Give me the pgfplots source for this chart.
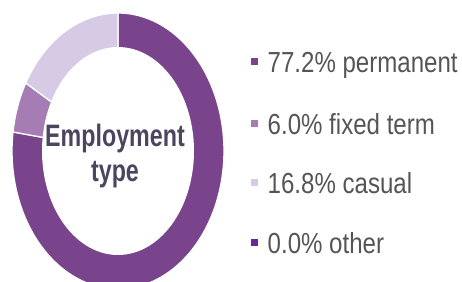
\documentclass[border=0pt]{standalone}
\usepackage{pgfplots}
\usepackage{pgfplotstable}
\pgfplotsset{compat=1.18}
\usepackage{fontspec}
\setmainfont[FakeStretch=0.83]{Liberation Sans}
\newfontfamily\centerfont[FakeStretch=0.75]{Liberation Sans}
\definecolor{cPerm}{HTML}{7A448D}
\definecolor{cFixed}{HTML}{A57DB4}
\definecolor{cCasual}{HTML}{D7CAE4}
\definecolor{cOther}{HTML}{64289A}
\definecolor{txt}{HTML}{555555}
\definecolor{ctxt}{HTML}{4B4560}
\pgfplotstableread{
label value
permanent 77.2
fixed 6.0
casual 16.8
other 0.0
}\datatable
\pgfplotstablegetelem{0}{value}\of\datatable \let\vA\pgfplotsretval
\pgfplotstablegetelem{1}{value}\of\datatable \let\vB\pgfplotsretval
\pgfplotstablegetelem{2}{value}\of\datatable \let\vC\pgfplotsretval
\pgfplotstablegetelem{3}{value}\of\datatable \let\vD\pgfplotsretval
\pgfmathsetmacro\aA{90}
\pgfmathsetmacro\aB{90-3.6*\vA}
\pgfmathsetmacro\aC{\aB-3.6*\vB}
\pgfmathsetmacro\aD{\aC-3.6*\vC}
\begin{document}
\begin{tikzpicture}
\useasboundingbox (0,0) rectangle (462pt,281pt);
\begin{axis}[
  at={(0,0)}, anchor=south west,
  width=462pt, height=281pt, scale only axis,
  xmin=0, xmax=462, ymin=0, ymax=281,
  hide axis, clip=true,
  trig format plots=deg,
]
\addplot[fill=cPerm, draw=white, line width=1.3pt, domain=\aB:\aA, samples=120, variable=\t]
  ({118+106*cos(\t)},{130+138*sin(\t)}) -- (118,130) -- cycle;
\addplot[fill=cFixed, draw=white, line width=1.3pt, domain=\aC:\aB, samples=30, variable=\t]
  ({118+106*cos(\t)},{130+138*sin(\t)}) -- (118,130) -- cycle;
\addplot[fill=cCasual, draw=white, line width=1.3pt, domain=\aD:\aC, samples=60, variable=\t]
  ({118+106*cos(\t)},{130+138*sin(\t)}) -- (118,130) -- cycle;
\addplot[fill=white, draw=none, domain=0:360, samples=120, variable=\t]
  ({118+76*cos(\t)},{130+104*sin(\t)}) -- cycle;

\node[anchor=base, text=ctxt, font=\centerfont\bfseries\fontsize{31}{35}\selectfont] at (115,134) {Employment};
\node[anchor=base, text=ctxt, font=\centerfont\bfseries\fontsize{31}{35}\selectfont] at (115,99) {type};

\node[anchor=base west, inner sep=0pt, text=txt, font=\fontsize{29}{32}\selectfont] at (251,208)
  {\textcolor{cPerm}{\rule[7.5pt]{7pt}{7pt}}\hspace{9.5pt}77.2\% permanent};
\node[anchor=base west, inner sep=0pt, text=txt, font=\fontsize{29}{32}\selectfont] at (251,146)
  {\textcolor{cFixed}{\rule[7.5pt]{7pt}{7pt}}\hspace{9.5pt}6.0\% fixed term};
\node[anchor=base west, inner sep=0pt, text=txt, font=\fontsize{29}{32}\selectfont] at (251,88)
  {\textcolor{cCasual}{\rule[7.5pt]{7pt}{7pt}}\hspace{9.5pt}16.8\% casual};
\node[anchor=base west, inner sep=0pt, text=txt, font=\fontsize{29}{32}\selectfont] at (251,28)
  {\textcolor{cOther}{\rule[7.5pt]{7pt}{7pt}}\hspace{9.5pt}0.0\% other};
\end{axis}
\end{tikzpicture}
\end{document}
